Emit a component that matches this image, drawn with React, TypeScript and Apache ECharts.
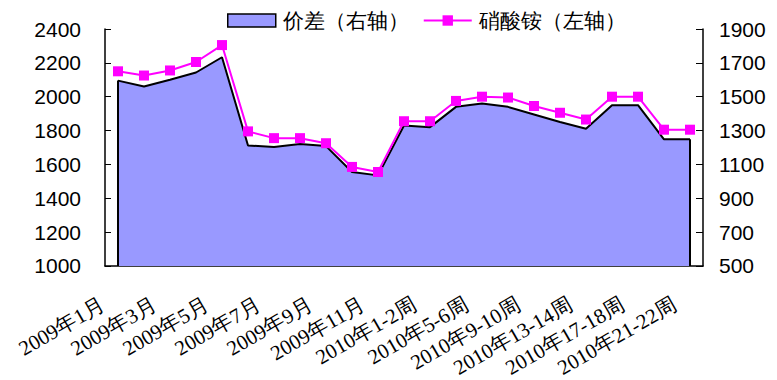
import React, { useEffect, useRef } from "react";
import * as echarts from "echarts";

// Periods: monthly through 2009, then two-week blocks in 2010
const categories = [
  "2009年1月", "2009年2月", "2009年3月", "2009年4月", "2009年5月", "2009年6月",
  "2009年7月", "2009年8月", "2009年9月", "2009年10月", "2009年11月", "2009年12月",
  "2010年1-2周", "2010年3-4周", "2010年5-6周", "2010年7-8周", "2010年9-10周",
  "2010年11-12周", "2010年13-14周", "2010年15-16周", "2010年17-18周",
  "2010年19-20周", "2010年21-22周",
];

// Ammonium nitrate price (left axis)
const ammoniumNitrate = [
  2150, 2125, 2155, 2205, 2305, 1795, 1755, 1755, 1725, 1585, 1555, 1855,
  1855, 1975, 2000, 1995, 1945, 1905, 1865, 2000, 2000, 1805, 1805,
];

// Price spread (right axis)
const priceSpread = [
  1595, 1560, 1600, 1643, 1733, 1212, 1202, 1220, 1208, 1055, 1035, 1330,
  1320, 1440, 1460, 1440, 1395, 1350, 1310, 1450, 1450, 1248, 1248,
];

const leftTicks = [1000, 1200, 1400, 1600, 1800, 2000, 2200, 2400];
const rightTicks = [500, 700, 900, 1100, 1300, 1500, 1700, 1900];

const spreadName = "价差（右轴）";
const nitrateName = "硝酸铵（左轴）";

const sansFont = "Liberation Sans";
const serifFont = "Liberation Serif";

const plain = (v: number) => String(v);

export default function App() {
  const ref = useRef<HTMLDivElement>(null);

  useEffect(() => {
    if (!ref.current) return;
    const chart = echarts.init(ref.current, undefined, { renderer: "svg" });
    const last = categories.length - 1;
    const rightMin = rightTicks[0];

    chart.setOption({
      animation: false,
      backgroundColor: "#ffffff",
      legend: {
        top: 5,
        left: 222,
        itemGap: 14,
        itemWidth: 48,
        itemHeight: 13,
        textStyle: {
          fontFamily: sansFont,
          fontSize: 21,
          color: "#000000",
          padding: [0, 0, 0, 2],
        },
        data: [
          {
            name: spreadName,
            icon: "rect",
            itemStyle: { color: "#9999FF", borderColor: "#000000", borderWidth: 1.5 },
          },
          { name: nitrateName },
        ],
      },
      grid: { left: 105, right: 74, top: 29, bottom: 113 },
      xAxis: {
        type: "category",
        data: categories,
        boundaryGap: true,
        axisLine: { lineStyle: { color: "#000000", width: 1.5 } },
        axisTick: {
          inside: true,
          length: 6,
          interval: 0,
          lineStyle: { color: "#000000" },
        },
        axisLabel: {
          interval: 1,
          rotate: 30,
          margin: 28,
          padding: [0, 18, 0, 0],
          fontFamily: serifFont,
          fontSize: 21,
          color: "#000000",
        },
        splitLine: { show: false },
      },
      yAxis: [
        {
          type: "value",
          min: leftTicks[0],
          max: leftTicks[leftTicks.length - 1],
          interval: 200,
          position: "left",
          axisLine: { show: true, lineStyle: { color: "#000000", width: 1.5 } },
          axisTick: { show: true, inside: true, length: 6, lineStyle: { color: "#000000" } },
          axisLabel: {
            margin: 24,
            formatter: plain,
            fontFamily: sansFont,
            fontSize: 21,
            color: "#000000",
          },
          splitLine: { show: false },
        },
        {
          type: "value",
          min: rightMin,
          max: rightTicks[rightTicks.length - 1],
          position: "right",
          axisLine: { show: true, lineStyle: { color: "#000000", width: 1.5 } },
          axisTick: {
            show: true,
            inside: true,
            length: 7,
            customValues: rightTicks,
            lineStyle: { color: "#000000" },
          },
          axisLabel: {
            margin: 16,
            customValues: rightTicks,
            formatter: plain,
            fontFamily: sansFont,
            fontSize: 21,
            color: "#000000",
          },
          splitLine: { show: false },
        },
      ],
      series: [
        {
          name: spreadName,
          type: "line",
          yAxisIndex: 1,
          data: priceSpread,
          showSymbol: false,
          symbol: "none",
          lineStyle: { color: "#000000", width: 2 },
          itemStyle: { color: "#9999FF" },
          areaStyle: { color: "#9999FF", opacity: 1, origin: "start" },
          markLine: {
            silent: true,
            symbol: "none",
            label: { show: false },
            lineStyle: { color: "#000000", width: 2, type: "solid" },
            data: [
              [
                { coord: [categories[0], priceSpread[0]] },
                { coord: [categories[0], rightMin] },
              ],
              [
                { coord: [categories[last], priceSpread[last]] },
                { coord: [categories[last], rightMin] },
              ],
            ],
          },
          z: 1,
        },
        {
          name: nitrateName,
          type: "line",
          yAxisIndex: 0,
          data: ammoniumNitrate,
          symbol: "rect",
          symbolSize: 10,
          lineStyle: { color: "#FF00FF", width: 2 },
          itemStyle: { color: "#FF00FF" },
          z: 3,
        },
      ],
    });

    return () => chart.dispose();
  }, []);

  return (
    <div
      ref={ref}
      style={{ position: "absolute", left: 0, top: 0, width: 777, height: 380 }}
    />
  );
}
